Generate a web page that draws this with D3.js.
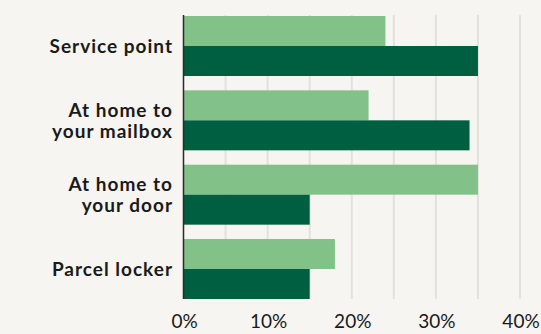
<!DOCTYPE html>
<html>
<head>
<meta charset="utf-8">
<script src="https://cdn.jsdelivr.net/npm/d3@7"></script>
<style>
  html, body { margin: 0; padding: 0; background: #f6f5f1; }
  svg { display: block; }
  text { font-family: Lato, "Open Sans", sans-serif; fill: #1a1a1a; }
</style>
</head>
<body>
<svg width="541" height="334"></svg>
<script>
// delivery options, two series per option
const categories = [["Service point"], ["At home to", "your mailbox"], ["At home to", "your door"], ["Parcel locker"]];
const lightValues = [24, 22, 35, 18];
const darkValues = [35, 34, 15, 15];
const gridTicks = [0, 5, 10, 15, 20, 25, 30, 35, 40];
const labelTicks = [0, 10, 20, 30, 40];

const svg = d3.select("svg");

const x = d3.scaleLinear().domain([0, 40]).range([183.5, 520]);
const y = d3.scaleBand()
    .domain(d3.range(categories.length))
    .range([16, 299])
    .paddingInner(0.193)
    .paddingOuter(0);
const sub = d3.scaleBand().domain([0, 1]).range([0, y.bandwidth()]);

// grid
svg.append("g")
    .selectAll("line")
    .data(gridTicks.slice(1))
    .enter().append("line")
        .attr("x1", d => x(d)).attr("x2", d => x(d))
        .attr("y1", 15).attr("y2", 299)
        .attr("stroke", "#e3e1dc")
        .attr("stroke-width", 2);

// bars
const groups = svg.append("g")
    .selectAll("g")
    .data(categories)
    .enter().append("g")
        .attr("transform", (d, i) => `translate(0,${y(i)})`);

groups.append("rect")
    .attr("x", x(0))
    .attr("y", sub(0))
    .attr("height", sub.bandwidth())
    .attr("width", (d, i) => x(lightValues[i]) - x(0))
    .attr("fill", "#82c289");

groups.append("rect")
    .attr("x", x(0))
    .attr("y", sub(1))
    .attr("height", sub.bandwidth())
    .attr("width", (d, i) => x(darkValues[i]) - x(0))
    .attr("fill", "#005f40");

// category labels
groups.append("text")
    .attr("text-anchor", "end")
    .style("font-size", "19px")
    .style("font-weight", "bold")
    .style("letter-spacing", "1px")
    .selectAll("tspan")
    .data(d => d.map((t, j) => ({ t, j, n: d.length })))
    .enter().append("tspan")
        .attr("x", 173)
        .attr("y", d => y.bandwidth() / 2 + 7 + (d.j - (d.n - 1) / 2) * 21)
        .text(d => d.t);

// y axis line
svg.append("line")
    .attr("x1", x(0)).attr("x2", x(0))
    .attr("y1", 15).attr("y2", 299)
    .attr("stroke", "#2a2a2a")
    .attr("stroke-width", 1.5);

// x tick labels
svg.append("g")
    .selectAll("text")
    .data(labelTicks)
    .enter().append("text")
        .attr("x", d => x(d) + 1)
        .attr("y", 328)
        .attr("text-anchor", "middle")
        .style("font-size", "19px")
        .text(d => d + "%");
</script>
</body>
</html>
